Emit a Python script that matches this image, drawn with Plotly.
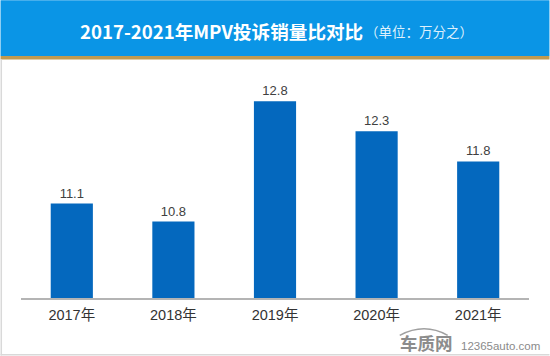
import plotly.graph_objects as go

years = ["2017年", "2018年", "2019年", "2020年", "2021年"]
values = [11.1, 10.8, 12.8, 12.3, 11.8]
labels = ["11.1", "10.8", "12.8", "12.3", "11.8"]
title_main = "2017-2021年MPV投诉销量比对比"
title_unit = "（单位：万分之）"

W, H = 550, 356
L, T, PW, PH = 20.5, 60, 509, 238.5
FONT = "Liberation Sans, Noto Sans CJK SC, sans-serif"
CJK = "Noto Sans CJK SC, sans-serif"

def px(x):
    return (x - L) / PW

def py(y):
    return 1 - (y - T) / PH

fig = go.Figure(go.Bar(
    x=years, y=values, width=0.415, marker=dict(color="#0468BE", line_width=0),
    text=labels, textposition="outside", cliponaxis=False,
    textfont=dict(size=13, color="#404040", family=FONT),
    hoverinfo="skip",
))

def note(text, x, y, size, color, family=CJK, bold=False):
    return dict(text=text, xref="paper", yref="paper", x=px(x), y=py(y), xanchor="left", yanchor="middle",
                showarrow=False, font=dict(size=size, color=color, family=family, weight="bold" if bold else "normal"))

fig.update_layout(
    width=W, height=H, autosize=False,
    margin=dict(l=L, r=W - L - PW, t=T, b=H - T - PH, autoexpand=False),
    paper_bgcolor="white", plot_bgcolor="white", showlegend=False,
    xaxis=dict(type="category", showgrid=False, showline=True, linecolor="#B4B4B4", linewidth=1.5,
               ticks="", tickfont=dict(size=14.5, color="#333333", family=FONT), ticklabelstandoff=3),
    yaxis=dict(range=[9.53, 13.485], visible=False, showgrid=False),
    shapes=[
        dict(type="rect", xref="paper", yref="paper", x0=px(0), x1=px(550), y0=py(0), y1=py(56),
             fillcolor="#0A95E6", line_width=0, layer="below"),
        dict(type="rect", xref="paper", yref="paper", x0=px(0), x1=px(550), y0=py(56), y1=py(59.5),
             fillcolor="#C09A50", line_width=0, layer="below"),
        dict(type="rect", xref="paper", yref="paper", x0=px(0), x1=px(1.5), y0=py(59.5), y1=py(356),
             fillcolor="#D9D9D9", line_width=0, layer="below"),
        dict(type="rect", xref="paper", yref="paper", x0=px(0), x1=px(550), y0=py(354.5), y1=py(356),
             fillcolor="#D9D9D9", line_width=0, layer="below"),
        dict(type="path", xref="paper", yref="paper", line=dict(color="#A0A0A0", width=1.5),
             path=f"M {px(400)} {py(336)} C {px(415)} {py(328)}, {px(432)} {py(327)}, {px(448)} {py(336)}"),
    ],
    annotations=[
        note(title_main, 78, 30, 18.6, "white", bold=True),
        note(title_unit, 363, 31, 13.5, "#DDF0FC"),
        note("车质网", 398, 343, 17.5, "#8C8C8C", bold=True),
        note("12365auto.com", 459, 347, 11.5, "#8A8A8A", "Liberation Sans, sans-serif"),
    ],
)
fig.write_html("out.html", config={"displayModeBar": False},
               post_script="document.body.style.margin='0';document.documentElement.style.overflow='hidden';")
